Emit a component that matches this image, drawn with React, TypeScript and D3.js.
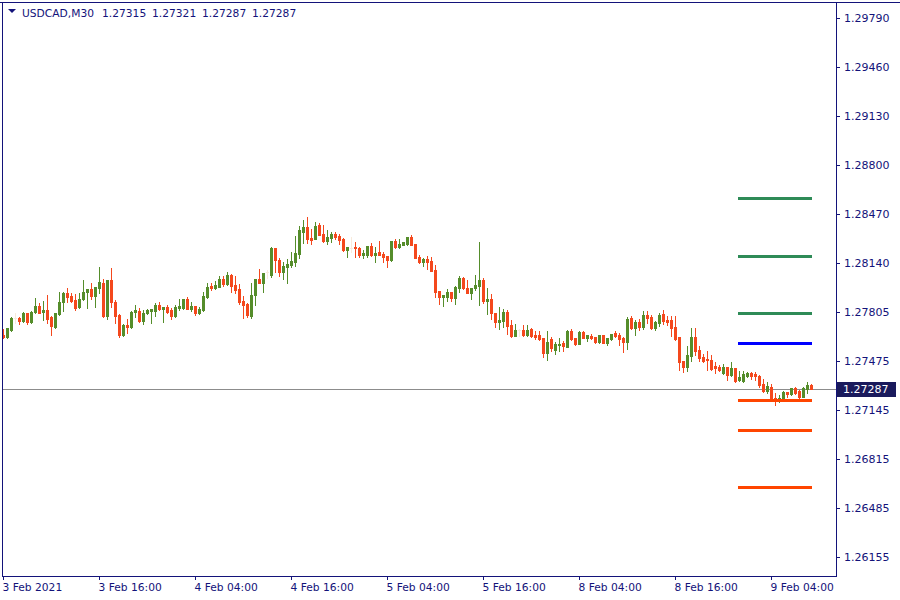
import React from "react";
import * as d3 from "d3";

const symbol = "USDCAD,M30";
const headerValues = ["1.27315", "1.27321", "1.27287", "1.27287"];
const priceTicks = [1.2979, 1.2946, 1.2913, 1.288, 1.2847, 1.2814, 1.27805, 1.27475, 1.27145, 1.26815, 1.26485, 1.26155];
const timeLabels = ["3 Feb 2021", "3 Feb 16:00", "4 Feb 04:00", "4 Feb 16:00", "5 Feb 04:00", "5 Feb 16:00", "8 Feb 04:00", "8 Feb 16:00", "9 Feb 04:00"];
const timeLabelBars = [0, 24, 48, 72, 96, 120, 144, 168, 192];
const currentPrice = 1.27287;
const pivotLevels = [1.28574, 1.28183, 1.27798, 1.27596, 1.27212, 1.27009, 1.26625];
const pivotKinds = ["r", "r", "r", "p", "s", "s", "s"];
const pivotSpan = [183.6, 202.1];

const open = [
  1.27652, 1.27639, 1.27686, 1.27767, 1.27767, 1.27746, 1.278, 1.2774, 1.27807, 1.27848,
  1.27807, 1.27821, 1.27773, 1.27706, 1.27794, 1.27875, 1.27935, 1.27915, 1.27888, 1.27841,
  1.27894, 1.27942, 1.27962, 1.27915, 1.27969, 1.28003, 1.2778, 1.28023, 1.27875, 1.27787,
  1.27652, 1.27719, 1.27706, 1.27807, 1.27814, 1.27746, 1.278, 1.27814, 1.27814, 1.27854,
  1.27827, 1.27841, 1.27821, 1.2778, 1.27834, 1.27834, 1.27894, 1.27827, 1.27848, 1.278,
  1.27821, 1.27908, 1.27982, 1.27969, 1.27976, 1.28029, 1.27996, 1.28056, 1.27989, 1.27962,
  1.27881, 1.27861, 1.2778, 1.27921, 1.28029, 1.28003, 1.28077, 1.28056, 1.28239, 1.28158,
  1.28077, 1.28111, 1.28124, 1.28144, 1.28198, 1.28347, 1.28381, 1.28306, 1.28299, 1.28394,
  1.28333, 1.28286, 1.28306, 1.28333, 1.2832, 1.28299, 1.28225, 1.28239, 1.28246, 1.28239,
  1.28191, 1.28191, 1.28252, 1.28191, 1.28212, 1.28198, 1.28185, 1.28158, 1.28286, 1.28246,
  1.28259, 1.28266, 1.28313, 1.28266, 1.28178, 1.28144, 1.28164, 1.28151, 1.2809, 1.27948,
  1.27908, 1.27908, 1.27942, 1.27901, 1.27969, 1.28036, 1.27969, 1.27935, 1.27969, 1.27982,
  1.28023, 1.27881, 1.27894, 1.278, 1.2774, 1.27746, 1.27807, 1.27719, 1.27645, 1.27686,
  1.27686, 1.27652, 1.27692, 1.27652, 1.27652, 1.27632, 1.2753, 1.27625, 1.27551, 1.27584,
  1.27598, 1.27571, 1.27679, 1.27632, 1.27591, 1.27672, 1.27632, 1.27645, 1.27639, 1.27605,
  1.27652, 1.27598, 1.27625, 1.27666, 1.27652, 1.27632, 1.27605, 1.27767, 1.27699, 1.2774,
  1.27706, 1.27787, 1.27773, 1.27699, 1.27733, 1.27794, 1.27753, 1.27753, 1.27706, 1.27639,
  1.27476, 1.27436, 1.2751, 1.27639, 1.27551, 1.27503, 1.2749, 1.27483, 1.27443, 1.27436,
  1.27396, 1.27436, 1.27382, 1.27429, 1.27349, 1.27342, 1.27375, 1.27396, 1.27389, 1.27375,
  1.27322, 1.27274, 1.27301, 1.27227, 1.27207, 1.2722, 1.27268, 1.27254, 1.27295, 1.27274,
  1.27234, 1.27288, 1.27315,
];
const high = [
  1.27692, 1.27699, 1.27773, 1.278, 1.27773, 1.27807, 1.278, 1.27814, 1.27901, 1.27868,
  1.27881, 1.27921, 1.2778, 1.278, 1.27942, 1.27942, 1.27969, 1.27935, 1.27928, 1.27935,
  1.28023, 1.27962, 1.28003, 1.27976, 1.28111, 1.28029, 1.28023, 1.28104, 1.27888, 1.27794,
  1.27726, 1.2776, 1.27814, 1.27854, 1.27834, 1.27821, 1.27827, 1.27827, 1.27868, 1.27875,
  1.27841, 1.27854, 1.27834, 1.27854, 1.27894, 1.27894, 1.27908, 1.27875, 1.27848, 1.27841,
  1.27942, 1.28003, 1.28003, 1.28016, 1.2805, 1.2805, 1.28077, 1.28063, 1.2805, 1.27996,
  1.27915, 1.27868, 1.28003, 1.28029, 1.28097, 1.2807, 1.2809, 1.28246, 1.28239, 1.28171,
  1.28144, 1.28164, 1.28212, 1.2832, 1.28388, 1.28428, 1.28448, 1.28367, 1.28415, 1.28408,
  1.28394, 1.2836, 1.28347, 1.28347, 1.28333, 1.28306, 1.28246, 1.28313, 1.28279, 1.28246,
  1.28225, 1.28252, 1.28273, 1.28246, 1.28286, 1.28212, 1.28185, 1.28286, 1.28299, 1.28299,
  1.28279, 1.28313, 1.28326, 1.28266, 1.28191, 1.28171, 1.28185, 1.28178, 1.28124, 1.27948,
  1.27921, 1.27962, 1.27942, 1.27982, 1.2805, 1.28043, 1.28023, 1.27969, 1.28056, 1.28279,
  1.28036, 1.27969, 1.27928, 1.278, 1.27841, 1.27827, 1.27821, 1.27753, 1.27726, 1.27692,
  1.27719, 1.27719, 1.27699, 1.27679, 1.27679, 1.27632, 1.27679, 1.27639, 1.27605, 1.27632,
  1.27611, 1.27686, 1.27692, 1.27632, 1.27679, 1.27679, 1.27652, 1.27659, 1.27639, 1.27652,
  1.27652, 1.27632, 1.27659, 1.27679, 1.27666, 1.27639, 1.27773, 1.2778, 1.27753, 1.2776,
  1.27814, 1.27814, 1.27787, 1.27746, 1.278, 1.27821, 1.2778, 1.2778, 1.2778, 1.27639,
  1.27476, 1.27578, 1.27699, 1.27699, 1.27578, 1.27524, 1.27544, 1.27517, 1.2747, 1.27449,
  1.27456, 1.27436, 1.2747, 1.27429, 1.27409, 1.27409, 1.27402, 1.27402, 1.27402, 1.27382,
  1.27355, 1.27335, 1.27322, 1.27261, 1.27247, 1.27274, 1.27268, 1.27295, 1.27301, 1.27281,
  1.27301, 1.27335, 1.27321,
];
const low = [
  1.27632, 1.27632, 1.27679, 1.27733, 1.27726, 1.2774, 1.27726, 1.27733, 1.278, 1.278,
  1.27753, 1.27733, 1.27652, 1.27699, 1.27787, 1.27814, 1.27875, 1.27875, 1.27821, 1.27834,
  1.27888, 1.27834, 1.27894, 1.27841, 1.27935, 1.27773, 1.2776, 1.27841, 1.27733, 1.27639,
  1.27645, 1.27666, 1.27699, 1.27773, 1.2774, 1.27726, 1.27794, 1.27733, 1.2778, 1.27821,
  1.2774, 1.278, 1.2776, 1.27773, 1.27821, 1.27827, 1.27827, 1.27814, 1.27787, 1.27794,
  1.27814, 1.27901, 1.27955, 1.27962, 1.27976, 1.27982, 1.27989, 1.27942, 1.27935, 1.27861,
  1.27767, 1.27773, 1.27767, 1.27854, 1.28003, 1.27942, 1.28036, 1.28043, 1.28077, 1.2805,
  1.28029, 1.28003, 1.28111, 1.28117, 1.28171, 1.28273, 1.28273, 1.28266, 1.28299, 1.28326,
  1.28279, 1.28266, 1.28279, 1.28299, 1.28266, 1.28218, 1.28178, 1.28212, 1.28178, 1.28178,
  1.28171, 1.28178, 1.28185, 1.28144, 1.28191, 1.28144, 1.28111, 1.28151, 1.28239, 1.28239,
  1.28259, 1.28259, 1.28259, 1.28171, 1.28138, 1.28117, 1.28097, 1.28083, 1.27908, 1.27861,
  1.27848, 1.27881, 1.27881, 1.27861, 1.27942, 1.27962, 1.27935, 1.27894, 1.27955, 1.27854,
  1.27868, 1.27794, 1.2776, 1.27706, 1.27692, 1.27706, 1.27659, 1.27639, 1.27645, 1.27645,
  1.27645, 1.27645, 1.27639, 1.27625, 1.27618, 1.27503, 1.27483, 1.27544, 1.27524, 1.27544,
  1.27544, 1.27571, 1.27618, 1.27584, 1.27591, 1.27632, 1.27611, 1.27625, 1.27598, 1.27598,
  1.27598, 1.27584, 1.27618, 1.27639, 1.27584, 1.27537, 1.27557, 1.27692, 1.27652, 1.27686,
  1.27692, 1.27733, 1.27692, 1.27686, 1.27713, 1.27726, 1.27719, 1.27645, 1.27618, 1.27416,
  1.27402, 1.27409, 1.27476, 1.27517, 1.27476, 1.2747, 1.27416, 1.27416, 1.27396, 1.27409,
  1.27389, 1.27349, 1.27375, 1.27335, 1.27342, 1.27335, 1.27369, 1.27355, 1.27349, 1.27301,
  1.27268, 1.27261, 1.27207, 1.2718, 1.272, 1.27214, 1.27234, 1.27247, 1.27254, 1.27227,
  1.27234, 1.27261, 1.27287,
];
const close = [
  1.27639, 1.27699, 1.27767, 1.27767, 1.27746, 1.278, 1.2774, 1.27807, 1.27848, 1.278,
  1.27821, 1.2776, 1.27713, 1.278, 1.27875, 1.27935, 1.27908, 1.27881, 1.27834, 1.27894,
  1.27942, 1.27962, 1.27915, 1.27976, 1.28009, 1.2778, 1.28023, 1.27875, 1.2778, 1.27652,
  1.27719, 1.27706, 1.27807, 1.27821, 1.27746, 1.278, 1.27821, 1.27827, 1.27854, 1.27827,
  1.27841, 1.27807, 1.2778, 1.27841, 1.27848, 1.27894, 1.27827, 1.27848, 1.278, 1.27827,
  1.27915, 1.27976, 1.27969, 1.27989, 1.28029, 1.27996, 1.28056, 1.27982, 1.27955, 1.27875,
  1.27854, 1.27787, 1.27921, 1.28029, 1.28003, 1.2807, 1.28077, 1.28239, 1.28158, 1.28077,
  1.28117, 1.28131, 1.28151, 1.28205, 1.2836, 1.28381, 1.28299, 1.28293, 1.28388, 1.28326,
  1.28286, 1.28313, 1.28333, 1.28313, 1.28293, 1.28225, 1.28246, 1.28239, 1.28239, 1.28191,
  1.28205, 1.28252, 1.28191, 1.28205, 1.28191, 1.28178, 1.28158, 1.28286, 1.28246, 1.28266,
  1.28279, 1.28313, 1.28259, 1.28171, 1.28144, 1.28164, 1.28144, 1.28083, 1.27942, 1.27908,
  1.27921, 1.27942, 1.27901, 1.27976, 1.28036, 1.27969, 1.27935, 1.27969, 1.27989, 1.28023,
  1.27881, 1.27894, 1.278, 1.2774, 1.27753, 1.27807, 1.27713, 1.27645, 1.27686, 1.27686,
  1.27652, 1.27686, 1.27645, 1.27639, 1.27625, 1.2753, 1.27605, 1.27564, 1.27591, 1.27591,
  1.27578, 1.27679, 1.27625, 1.27591, 1.27672, 1.27632, 1.27652, 1.27632, 1.27605, 1.27652,
  1.27598, 1.27632, 1.27659, 1.27645, 1.27625, 1.27605, 1.2776, 1.27699, 1.2774, 1.27706,
  1.27787, 1.27767, 1.27699, 1.2774, 1.27787, 1.27746, 1.2774, 1.27699, 1.27625, 1.2747,
  1.27436, 1.27517, 1.27639, 1.27544, 1.27497, 1.27476, 1.27483, 1.27423, 1.27429, 1.27416,
  1.27436, 1.27382, 1.27429, 1.27342, 1.27369, 1.27389, 1.27396, 1.27375, 1.27375, 1.27315,
  1.27274, 1.27308, 1.27214, 1.27214, 1.27227, 1.27268, 1.27254, 1.27295, 1.27261, 1.27234,
  1.27295, 1.27315, 1.27287,
];

const NAVY = "#13137a";
const BULL = "#558d2b";
const BEAR = "#f4481d";
const DOJI = "#f8eadb";
const PIVOT_COLORS: Record<string, string> = { r: "#2e8b57", p: "#0000ff", s: "#ff4500" };
const FONT = "'DejaVu Sans', Verdana, sans-serif";

export default function App() {
  const W = 900;
  const H = 600;
  const left = 2;
  const right = 836;
  const top = 2;
  const bottom = 576;
  const n = close.length;

  const y = d3
    .scaleLinear()
    .domain([priceTicks[priceTicks.length - 1], priceTicks[0]])
    .range([557, 18]);
  const x = d3.scaleLinear().domain([0, n - 1]).range([3.5, 3.5 + 4 * (n - 1)]);
  const ry = (v: number) => Math.round(y(v));

  const candles = d3.range(n).map((i) => {
    const o = open[i];
    const c = close[i];
    const color = c > o ? BULL : c < o ? BEAR : DOJI;
    const cx = Math.floor(x(i));
    const bt = ry(Math.max(o, c));
    const bb = ry(Math.min(o, c));
    const wt = ry(high[i]);
    const wb = ry(low[i]);
    return (
      <g key={i} fill={color}>
        <rect x={cx} y={wt} width={1} height={wb - wt + 1} />
        <rect x={cx - 1} y={bt} width={3} height={Math.max(1, bb - bt + 1)} />
      </g>
    );
  });

  const cpY = ry(currentPrice) + 0.5;

  return (
    <svg
      width={W}
      height={H}
      style={{ position: "absolute", left: 0, top: 0, background: "#fff" }}
      shapeRendering="crispEdges"
    >
      <rect x={0} y={0} width={W} height={H} fill="#fff" />
      {/* current price line */}
      <line x1={left} x2={right} y1={cpY} y2={cpY} stroke="#8c8c8c" strokeWidth={1} />
      {candles}
      {/* pivot levels */}
      {pivotLevels.map((p, k) => (
        <line
          key={k}
          x1={x(pivotSpan[0])}
          x2={x(pivotSpan[1])}
          y1={y(p)}
          y2={y(p)}
          stroke={PIVOT_COLORS[pivotKinds[k]]}
          strokeWidth={3}
        />
      ))}
      {/* frame */}
      <line x1={0} x2={W} y1={top + 0.5} y2={top + 0.5} stroke={NAVY} />
      <line x1={left + 0.5} x2={left + 0.5} y1={top} y2={bottom + 1} stroke={NAVY} />
      <line x1={right + 0.5} x2={right + 0.5} y1={top} y2={bottom + 1} stroke={NAVY} />
      <line x1={left} x2={right + 1} y1={bottom + 0.5} y2={bottom + 0.5} stroke={NAVY} />
      {/* header */}
      <path d="M8,9 L16,9 L12,13 Z" fill={NAVY} shapeRendering="auto" />
      <g fontFamily={FONT} fontSize={10.7} fill={NAVY}>
        <text x={22} y={17}>{symbol}</text>
        {headerValues.map((v, k) => (
          <text key={k} x={102 + 50 * k} y={17}>{v}</text>
        ))}
      </g>
      {/* price axis */}
      <g fontFamily={FONT} fontSize={11} fill={NAVY}>
        {priceTicks.map((p, k) => (
          <g key={k}>
            <line x1={right} x2={right + 4} y1={ry(p) + 0.5} y2={ry(p) + 0.5} stroke={NAVY} />
            <text x={844} y={ry(p) + 4}>{d3.format(".5f")(p)}</text>
          </g>
        ))}
      </g>
      {/* current price label */}
      <rect x={837} y={ry(currentPrice) - 7} width={59} height={15} fill="#1a1a5c" />
      <text x={843} y={ry(currentPrice) + 4} fontFamily={FONT} fontSize={11} fill="#fff">
        {d3.format(".5f")(currentPrice)}
      </text>
      {/* time axis */}
      <g fontFamily={FONT} fontSize={10.7} fill={NAVY}>
        {timeLabelBars.map((b, k) => (
          <g key={k}>
            <line x1={Math.floor(x(b)) + 0.5} x2={Math.floor(x(b)) + 0.5} y1={bottom} y2={bottom + 4} stroke={NAVY} />
            <text x={Math.floor(x(b)) - 0.5} y={591}>{timeLabels[k]}</text>
          </g>
        ))}
      </g>
    </svg>
  );
}
